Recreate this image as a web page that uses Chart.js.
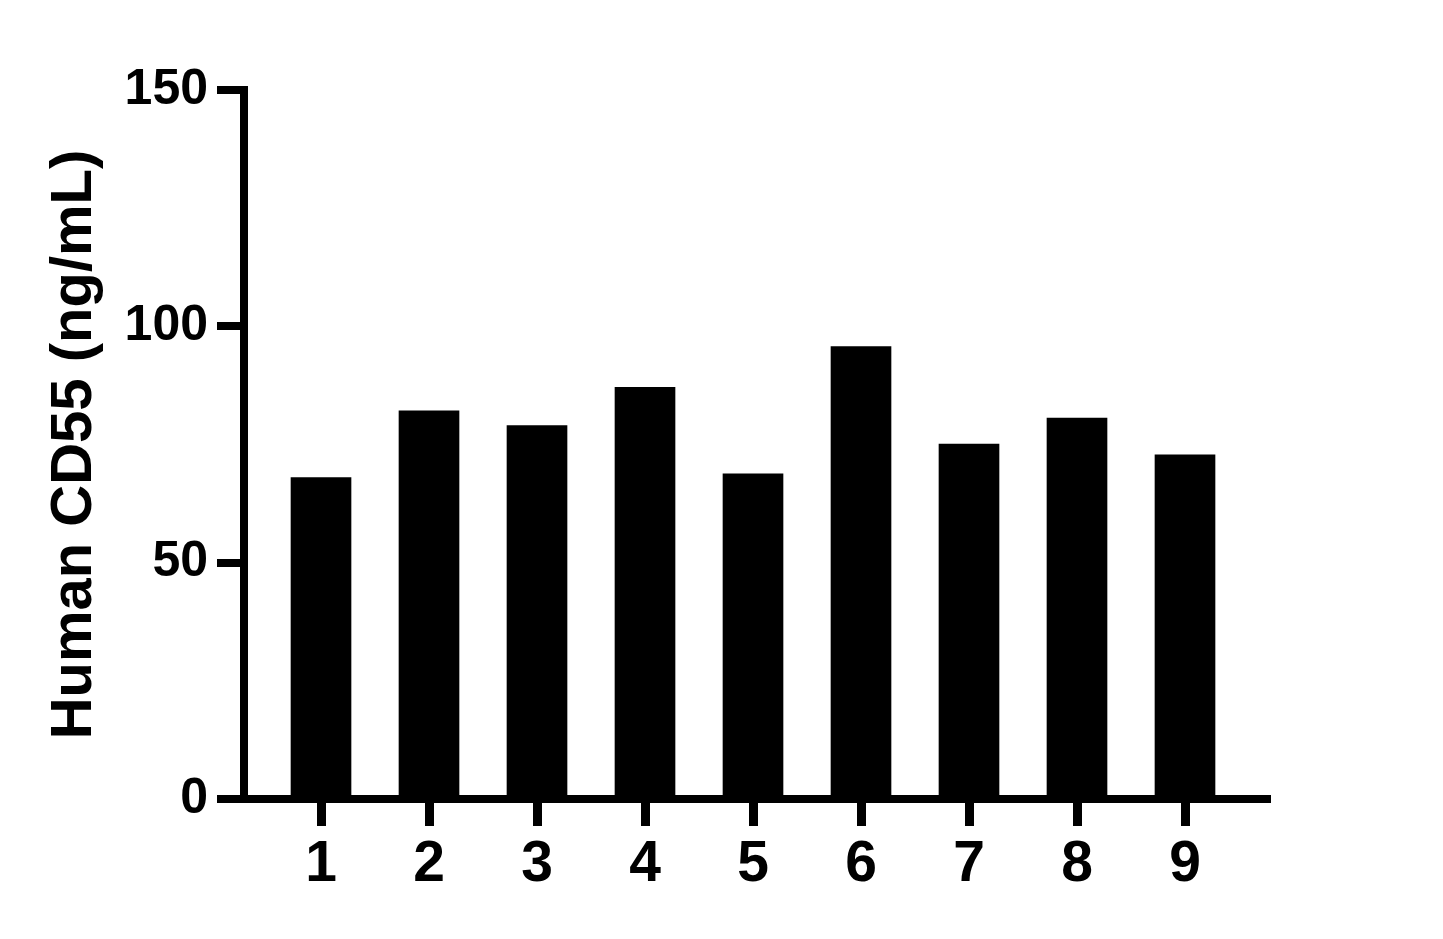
<!DOCTYPE html>
<html>
<head>
<meta charset="utf-8">
<script src="https://cdn.jsdelivr.net/npm/chart.js@4.4.0/dist/chart.umd.min.js"></script>
<style>
  html, body { margin: 0; padding: 0; background: #fff; }
  #wrap { width: 1443px; height: 939px; }
</style>
</head>
<body>
<div id="wrap"><canvas id="cd55Chart" width="1443" height="939"></canvas></div>
<script>
// sample numbers on the x axis
const samples = [1, 2, 3, 4, 5, 6, 7, 8, 9];
// Human CD55 concentration per sample (ng/mL)
const cd55Values = [68.0, 82.1, 79.0, 87.1, 68.8, 95.7, 75.1, 80.6, 72.8];
// y axis ticks
const yTicks = [0, 50, 100, 150];
const yTitle = 'Human CD55 (ng/mL)';

const fontName = "'Liberation Sans', Arial, Helvetica, sans-serif";

//build point list from the arrays
const points = samples.map((s, i) => ({ x: s, y: cd55Values[i] }));

const ctx = document.getElementById('cd55Chart').getContext('2d');
const cd55Chart = new Chart(ctx, {
    type: 'bar',
    data: {
        datasets: [{
            data: points,
            backgroundColor: '#000',
            borderWidth: 0,
            barThickness: 60
        }]
    },
    options: {
        responsive: false,
        animation: false,
        devicePixelRatio: 1,
        layout: {
            padding: { top: 90, right: 177, bottom: 0, left: 0 }
        },
        plugins: {
            legend: { display: false },
            tooltip: { enabled: false }
        },
        scales: {
            x: {
                type: 'linear',
                offset: false,
                min: 0.287,
                max: 9.75,
                afterBuildTicks: (scale) => {
                    scale.ticks = samples.map(v => ({ value: v }));
                },
                afterFit: (scale) => { scale.height = 140; },
                border: { display: true, color: '#000', width: 8 },
                grid: {
                    offset: false,
                    drawOnChartArea: false,
                    drawTicks: true,
                    tickLength: 27,
                    color: '#000',
                    lineWidth: 9
                },
                ticks: {
                    color: '#000',
                    padding: 5,
                    maxRotation: 0,
                    autoSkip: false,
                    font: { family: fontName, size: 57, weight: 'bold' },
                    callback: (v) => String(v)
                }
            },
            y: {
                min: 0,
                max: 150,
                afterBuildTicks: (scale) => {
                    scale.ticks = yTicks.map(v => ({ value: v }));
                },
                afterFit: (scale) => { scale.width = 244; },
                border: { display: true, color: '#000', width: 8 },
                grid: {
                    drawOnChartArea: false,
                    drawTicks: true,
                    tickLength: 27,
                    color: '#000',
                    lineWidth: 8
                },
                ticks: {
                    color: '#000',
                    padding: 9,
                    font: { family: fontName, size: 50, weight: 'bold' }
                },
                title: {
                    display: true,
                    text: yTitle,
                    color: '#000',
                    padding: { top: 40, bottom: 0 },
                    font: { family: fontName, size: 58, weight: 'bold' }
                }
            }
        }
    }
});
</script>
</body>
</html>
